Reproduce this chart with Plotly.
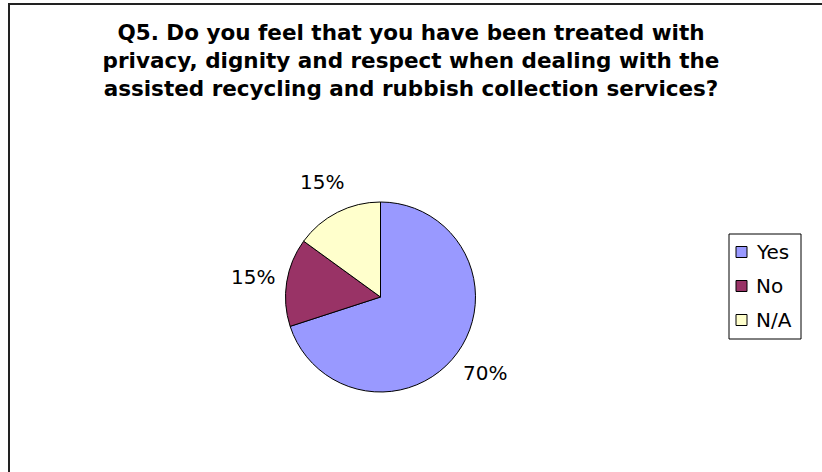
import math
import plotly.graph_objects as go

labels = ["Yes", "No", "N/A"]
values = [70, 15, 15]
colors = ["#9999FF", "#993366", "#FFFFCC"]
title_lines = [
    "Q5. Do you feel that you have been treated with",
    "privacy, dignity and respect when dealing with the",
    "assisted recycling and rubbish collection services?",
]

W, H = 822, 472
cx, cy, r = 380.5, 297.0, 95.0


def px(x):
    return x / W


def py(y):
    return 1 - y / H


fig = go.Figure(go.Pie(
    labels=labels, values=values, sort=False, direction="clockwise", rotation=0,
    marker=dict(colors=colors, line=dict(color="black", width=1)),
    textinfo="none", hoverinfo="label+percent", showlegend=False,
    domain=dict(x=[px(cx - r), px(cx + r)], y=[py(cy + r), py(cy - r)]),
))

FONT = "DejaVu Sans"
annotations = []
shapes = []

# percentage labels outside each slice along its mid-angle
total = sum(values)
cum = 0
for v in values:
    mid = (cum + v / 2) / total * 2 * math.pi
    cum += v
    dist = r * 1.36
    annotations.append(dict(
        x=px(cx + math.sin(mid) * dist), y=py(cy - math.cos(mid) * dist),
        xref="paper", yref="paper", text=f"{round(v / total * 100)}%", showarrow=False,
        xanchor="center", yanchor="middle",
        font=dict(family=FONT, size=20, color="black"),
    ))

# legend (box, swatches, labels)
lg_left, lg_top, lg_right, lg_bottom = 729, 234, 801, 339
row0, row_step = 252, 34
shapes.append(dict(type="rect", xref="paper", yref="paper",
                   x0=px(lg_left), x1=px(lg_right), y0=py(lg_bottom), y1=py(lg_top),
                   line=dict(color="black", width=1), fillcolor="white", layer="below"))
for i, (lab, col) in enumerate(zip(labels, colors)):
    yc = row0 + i * row_step
    shapes.append(dict(type="rect", xref="paper", yref="paper",
                       x0=px(736), x1=px(747), y0=py(yc + 5.5), y1=py(yc - 5.5),
                       line=dict(color="black", width=1), fillcolor=col))
    annotations.append(dict(x=px(754), y=py(yc), xref="paper", yref="paper",
                            text=lab, showarrow=False, xanchor="left", yanchor="middle",
                            font=dict(family=FONT, size=20, color="black")))

# outer chart border
shapes.append(dict(type="rect", xref="paper", yref="paper",
                   x0=px(9), x1=1.02, y0=-0.02, y1=py(4),
                   line=dict(color="#222222", width=2), fillcolor="rgba(0,0,0,0)", layer="below"))

fig.update_layout(
    width=W, height=H,
    margin=dict(l=0, r=0, t=0, b=0),
    paper_bgcolor="white", plot_bgcolor="white",
    title=dict(
        text="<br>".join(title_lines), x=0.5, xanchor="center",
        y=py(40), yanchor="top",
        font=dict(family=FONT, size=21.5, color="black", weight="bold"),
    ),
    showlegend=False,
    annotations=annotations,
    shapes=shapes,
)

fig.write_html("out.html", config={"displayModeBar": False},
               post_script="document.body.style.margin='0';")
